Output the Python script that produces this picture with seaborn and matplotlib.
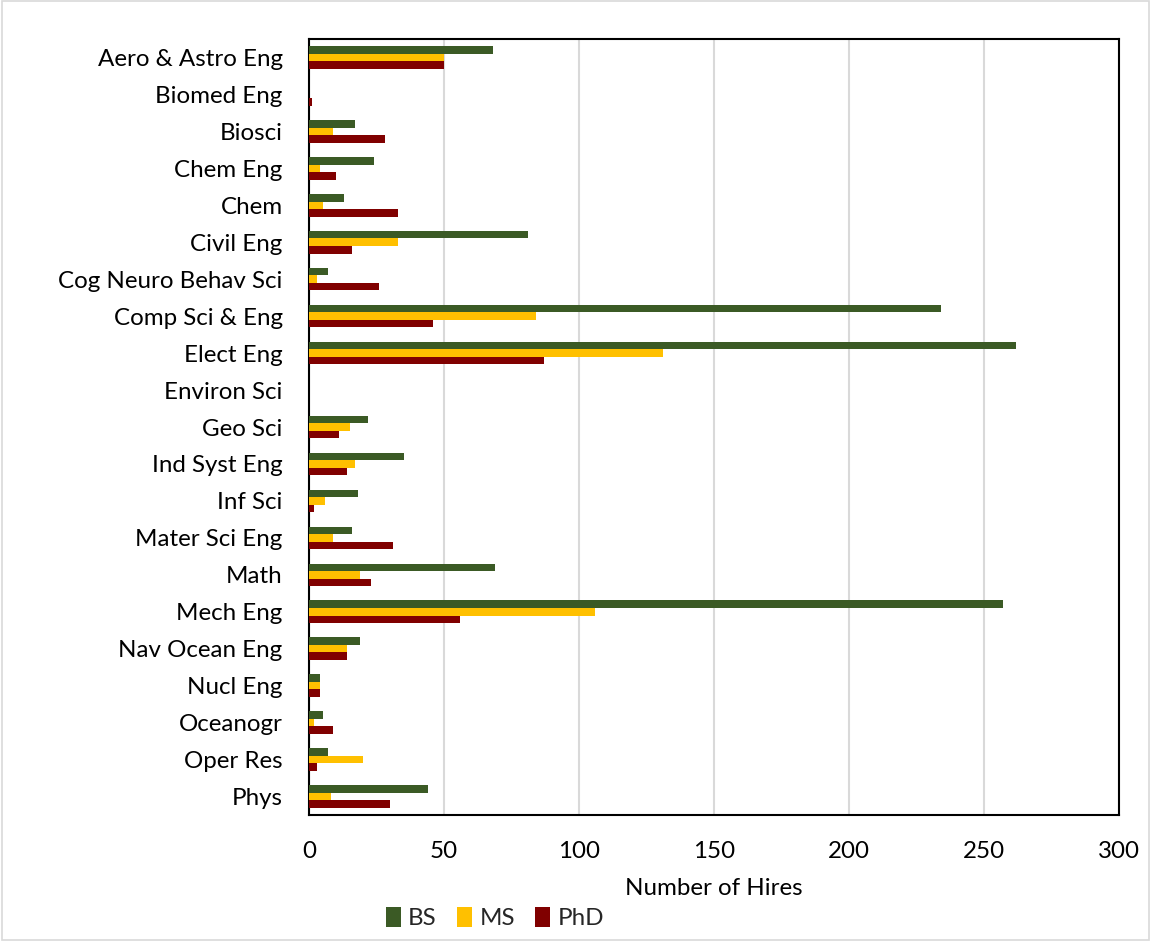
import matplotlib
matplotlib.use("Agg")
import matplotlib.pyplot as plt
from matplotlib.patches import Rectangle, Patch
import seaborn as sns
import pandas as pd

# Hires per discipline, by degree level
disciplines = [
    "Aero & Astro Eng", "Biomed Eng", "Biosci", "Chem Eng", "Chem", "Civil Eng",
    "Cog Neuro Behav Sci", "Comp Sci & Eng", "Elect Eng", "Environ Sci", "Geo Sci",
    "Ind Syst Eng", "Inf Sci", "Mater Sci Eng", "Math", "Mech Eng", "Nav Ocean Eng",
    "Nucl Eng", "Oceanogr", "Oper Res", "Phys",
]
bs_hires = [68, 0, 17, 24, 13, 81, 7, 234, 262, 0, 22, 35, 18, 16, 69, 257, 19, 4, 5, 7, 44]
ms_hires = [50, 0, 9, 4, 5, 33, 3, 84, 131, 0, 15, 17, 6, 9, 19, 106, 14, 4, 2, 20, 8]
phd_hires = [50, 1, 28, 10, 33, 16, 26, 46, 87, 0, 11, 14, 2, 31, 23, 56, 14, 4, 9, 3, 30]
degrees = ["BS", "MS", "PhD"]
x_ticks = [0, 50, 100, 150, 200, 250, 300]

colors = {"BS": "#3B5A25", "MS": "#FFC000", "PhD": "#800000"}

rows = []
for d, vals in zip(degrees, [bs_hires, ms_hires, phd_hires]):
    for disc, v in zip(disciplines, vals):
        rows.append({"Discipline": disc, "Degree": d, "Hires": v})
df = pd.DataFrame(rows)

sns.set_theme(style="white")
plt.rcParams["font.family"] = ["Lato", "DejaVu Sans"]
FS = 17.4

fig = plt.figure(figsize=(11.51, 9.41), dpi=100)
W, H = 1151, 941
left_px, right_px, top_px, bottom_px = 309, 1119, 39, 815
ax = fig.add_axes([left_px / W, 1 - bottom_px / H,
                   (right_px - left_px) / W, (bottom_px - top_px) / H])

sns.barplot(data=df, y="Discipline", x="Hires", hue="Degree",
            order=disciplines, hue_order=degrees, palette=colors,
            orient="h", width=0.61, saturation=1, errorbar=None,
            linewidth=0, ax=ax, zorder=3)

n = len(disciplines)
ax.set_xlim(0, 300)
ax.set_ylim(n - 0.5, -0.5)
ax.set_xticks(x_ticks)
ax.set_xticklabels([str(t) for t in x_ticks])
ax.grid(axis="x", color="#D9D9D9", linewidth=1.5, zorder=0)
ax.grid(axis="y", visible=False)
ax.set_axisbelow(True)
for s in ax.spines.values():
    s.set_visible(True)
    s.set_color("black")
    s.set_linewidth(1.5)
ax.tick_params(axis="both", length=0, labelsize=FS, colors="black")
ax.tick_params(axis="x", pad=19)
ax.tick_params(axis="y", pad=19)
ax.set_ylabel("")
ax.set_xlabel("Number of Hires", fontsize=FS, color="black", labelpad=11)

if ax.get_legend() is not None:
    ax.get_legend().remove()
handles = [Patch(facecolor=colors[d], edgecolor="none", label=d) for d in degrees]
fig.legend(handles=handles, loc="center", bbox_to_anchor=(495 / W, 1 - 918 / H),
           ncol=3, frameon=False, fontsize=FS, handlelength=0.62, handleheight=0.9,
           handletextpad=0.3, columnspacing=0.85, borderpad=0)

# light chart-area border
fig.patches.append(Rectangle((0.0015, 0.0015), 0.997, 0.997, transform=fig.transFigure,
                             fill=False, edgecolor="#D9D9D9", linewidth=1.2))

fig.savefig("out.png", dpi=100, facecolor="white")
